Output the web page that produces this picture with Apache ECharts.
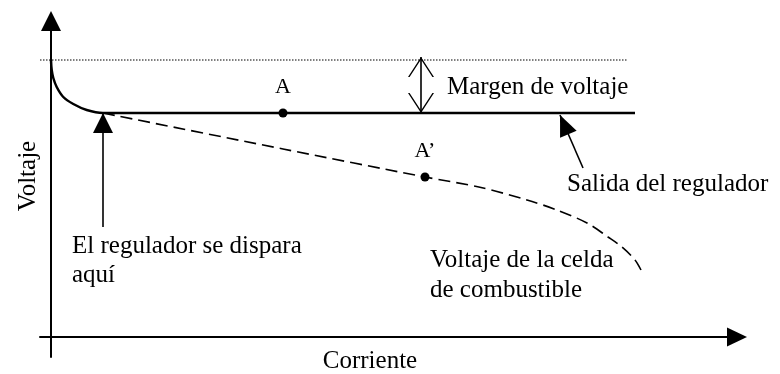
<!DOCTYPE html>
<html>
<head>
<meta charset="utf-8">
<script src="https://cdn.jsdelivr.net/npm/echarts@6/dist/echarts.min.js"></script>
<style>
  html, body { margin: 0; padding: 0; background: #fff; }
  #chart { width: 780px; height: 374px; }
</style>
</head>
<body>
<div id="chart"></div>
<script>
// units: current / voltage in arbitrary diagram units
const marginLine = [[-1.1, 27.7], [57.7, 27.7]];
const regulatorCurve = [[0, 27.7], [0.07, 26.7], [0.23, 25.9], [0.57, 25.0], [1.23, 24.0], [2.23, 23.3], [3.57, 22.7], [5.2, 22.4], [58.4, 22.4]];
const fuelCellCurve = [[5.2, 22.4], [23.2, 18.8], [37.4, 16.0], [43, 14.95], [47.6, 13.7], [50.6, 12.7], [53.6, 11.4], [55.7, 10.0], [57.1, 9.0], [58.4, 7.7], [59.0, 6.7]];
const pointNames = ["A", "A\u2019"];
const pointCoords = [[23.2, 22.4], [37.4, 16.0]];
const triggerArrow = [[5.2, 11.0], [5.2, 22.4]];
const marginArrow = [[37.0, 28.0], [37.0, 22.4]];
const outputArrow = [[53.2, 16.9], [50.9, 22.2]];

const FONT = '"Liberation Serif", "Times New Roman", serif';
const vHead = "path://M13,0 L26,20 L24.4,20 L13,2.46 L1.6,20 L0,20 Z";

var myChart = echarts.init(document.getElementById("chart"));
var option;

option = {
  animation: false,
  backgroundColor: "#fff",
  grid: { left: 40, right: 43, top: 21, bottom: 17, containLabel: false, outerBoundsMode: "none" },
  xAxis: {
    type: "value",
    min: -1.1,
    max: 68.6,
    name: "Corriente",
    nameLocation: "middle",
    nameGap: -8,
    nameMoveOverlap: false,
    nameTextStyle: { fontFamily: FONT, fontSize: 25, color: "#000", padding: [0, 37, 0, 0] },
    axisLine: {
      onZero: true,
      symbol: ["none", "triangle"],
      symbolSize: [19, 20],
      lineStyle: { color: "#000", width: 2 },
    },
    axisTick: { show: false },
    axisLabel: { show: false },
    splitLine: { show: false },
  },
  yAxis: {
    type: "value",
    min: -2,
    max: 31.6,
    name: "Voltaje",
    nameLocation: "middle",
    nameRotate: 90,
    nameGap: -1,
    nameMoveOverlap: false,
    nameTextStyle: { fontFamily: FONT, fontSize: 25, color: "#000", padding: [0, 0, 0, 26] },
    axisLine: {
      onZero: true,
      symbol: ["none", "triangle"],
      symbolSize: [20, 20],
      lineStyle: { color: "#000", width: 2 },
    },
    axisTick: { show: false },
    axisLabel: { show: false },
    splitLine: { show: false },
  },
  series: [
    {
      name: "margen",
      type: "line",
      data: marginLine,
      showSymbol: false,
      lineStyle: { color: "#000", width: 1.2, type: [1.5, 1.5] },
    },
    {
      name: "celda",
      type: "line",
      data: fuelCellCurve,
      showSymbol: false,
      smooth: 0.3,
      lineStyle: { color: "#000", width: 1.6, type: [12, 6] },
    },
    {
      name: "regulador",
      type: "line",
      data: regulatorCurve,
      showSymbol: false,
      smooth: 0.35,
      lineStyle: { color: "#000", width: 2.5 },
    },
    {
      name: "puntos",
      type: "scatter",
      data: pointCoords.map((c, i) => ({ name: pointNames[i], value: c })),
      symbolSize: 9,
      itemStyle: { color: "#000", opacity: 1 },
      label: {
        show: true,
        position: "top",
        distance: 10,
        formatter: "{b}",
        fontFamily: FONT,
        fontSize: 22,
        color: "#000",
        opacity: 1,
      },
      markLine: {
        silent: true,
        animation: false,
        symbol: ["none", "none"],
        label: { show: false },
        lineStyle: { color: "#000", width: 1.6, type: "solid", opacity: 1 },
        data: [
          [
            { coord: triggerArrow[0], symbol: "none" },
            { coord: triggerArrow[1], symbol: "triangle", symbolSize: [20, 20], symbolOffset: [0, 10] },
          ],
          [
            { coord: marginArrow[0], symbol: vHead, symbolSize: [26, 20], symbolOffset: [0, 10] },
            { coord: marginArrow[1], symbol: vHead, symbolSize: [26, 20], symbolOffset: [0, 10] },
          ],
          [
            { coord: outputArrow[0], symbol: "none" },
            { coord: outputArrow[1], symbol: "triangle", symbolSize: [18, 21], symbolOffset: [0, 10.5] },
          ],
        ],
      },
    },
  ],
  graphic: [
    { type: "text", left: 447, top: 87 - 12.5, style: { text: "Margen de voltaje", font: "25px " + FONT, fill: "#000" } },
    { type: "text", left: 567, top: 184 - 12.5, style: { text: "Salida del regulador", font: "25px " + FONT, fill: "#000" } },
    { type: "text", left: 72, top: 246 - 14.5, style: { text: "El regulador se dispara\naquí", font: "25px " + FONT, lineHeight: 29, fill: "#000" } },
    { type: "text", left: 430, top: 260 - 15, style: { text: "Voltaje de la celda\nde combustible", font: "25px " + FONT, lineHeight: 30, fill: "#000" } },
  ],
};

option && myChart.setOption(option);
</script>
</body>
</html>
